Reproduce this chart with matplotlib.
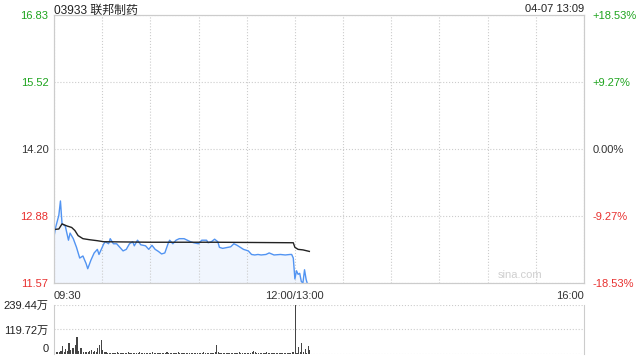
import numpy as np
import matplotlib.pyplot as plt

plt.rcParams['font.family'] = ['Liberation Sans', 'Noto Sans CJK SC', 'DejaVu Sans']

# Data (minutes since 09:30, lunch break removed; 150 = 12:00/13:00)
price_min = [0, 1, 3, 4, 5, 7, 9, 10, 12, 14, 16, 18, 20, 21, 23, 25, 27, 28, 30, 31,
             32, 34, 35, 37, 39, 41, 43, 45, 47, 49, 50, 52, 54, 57, 59, 61, 63, 65, 67, 69,
             71, 72, 74, 76, 78, 81, 83, 85, 87, 90, 92, 95, 96, 98, 100, 102, 103, 105, 110, 112,
             114, 116, 118, 121, 123, 125, 127, 129, 132, 134, 137, 141, 144, 147, 148, 149, 150, 151, 152, 153,
             154, 155, 156, 157, 158, 159]
price = [12.48, 12.66, 12.90, 13.18, 12.73, 12.69, 12.41, 12.55, 12.44, 12.27, 12.06, 12.10, 11.95, 11.85, 12.02, 12.16, 12.23, 12.13, 12.27, 12.34,
         12.38, 12.34, 12.44, 12.34, 12.34, 12.27, 12.20, 12.23, 12.34, 12.38, 12.30, 12.41, 12.32, 12.30, 12.23, 12.31, 12.23, 12.19, 12.14, 12.16,
         12.34, 12.41, 12.34, 12.41, 12.44, 12.44, 12.41, 12.38, 12.36, 12.34, 12.41, 12.41, 12.36, 12.38, 12.43, 12.38, 12.27, 12.25, 12.28, 12.34,
         12.31, 12.27, 12.23, 12.20, 12.13, 12.12, 12.13, 12.12, 12.13, 12.16, 12.12, 12.13, 12.12, 12.13, 12.13, 12.06, 11.65, 11.81, 11.74, 11.76,
         11.60, 11.57, 11.83, 11.64, 11.53, 11.43]

avg_min = [0, 3, 5, 8, 11, 13, 15, 18, 22, 27, 31, 60, 100, 149, 150, 152, 155, 159]
avg_price = [12.62, 12.63, 12.73, 12.69, 12.66, 12.60, 12.50, 12.44, 12.42, 12.40, 12.38, 12.37, 12.37, 12.36, 12.27, 12.23, 12.22, 12.19]

volume = [81, 10, 12, 12, 15, 38, 12, 25, 14, 54,
          20, 30, 28, 45, 83, 14, 30, 28, 12, 10,
          12, 10, 15, 20, 12, 15, 10, 28, 43, 70,
          18, 12, 8, 6, 5, 7, 4, 6, 5, 8,
          6, 5, 7, 4, 5, 6, 8, 5, 4, 6,
          7, 5, 6, 9, 5, 4, 6, 5, 7, 6,
          5, 8, 6, 4, 5, 7, 5, 6, 4, 5,
          9, 6, 5, 7, 4, 6, 5, 8, 5, 6,
          4, 5, 7, 6, 5, 4, 6, 5, 7, 5,
          6, 4, 5, 8, 6, 5, 7, 4, 6, 5,
          8, 42, 10, 6, 5, 7, 4, 6, 5, 6,
          5, 7, 4, 6, 5, 8, 5, 6, 4, 5,
          6, 7, 5, 12, 15, 9, 6, 5, 7, 4,
          5, 6, 8, 5, 4, 6, 5, 7, 5, 6,
          4, 6, 5, 7, 5, 4, 6, 5, 8, 10,
          239.44, 6, 34, 8, 54, 10, 26, 6, 38, 20]
vol_min = np.arange(len(volume))

price_ticks = [11.57, 12.88, 14.20, 15.52, 16.83]
pct_labels = ['-18.53%', '-9.27%', '0.00%', '+9.27%', '+18.53%']
tick_colors = ['#e8302f', '#e8302f', '#333333', '#1ea41e', '#1ea41e']
vol_ticks = [0, 119.72, 239.44]
vol_labels = ['0', '119.72万', '239.44万']

grid_c = '#cccccc'

fig = plt.figure(figsize=(6.4, 3.6), dpi=100)
ax = fig.add_axes([0.0844, 0.2139, 0.828, 0.7444])
axv = fig.add_axes([0.0844, 0.0167, 0.828, 0.1361])

# price panel
ax.fill_between(price_min, price, 11.57, color='#f1f6fe', lw=0)
ax.plot(price_min, price, color='#5294f2', lw=1)
ax.plot(avg_min, avg_price, color='#222222', lw=1)
ax.set_xlim(0, 330)
ax.set_ylim(11.57, 16.83)
ax.set_yticks(price_ticks)
ax.set_yticklabels(['%.2f' % v for v in price_ticks])
ax.set_xticks(np.arange(0, 331, 30))
ax.set_xticklabels(['09:30', '', '', '', '', '12:00/13:00', '', '', '', '', '', '16:00'])
xl = ax.get_xticklabels()
xl[0].set_ha('left')
xl[-1].set_ha('right')
ax.tick_params(axis='both', length=0, labelsize=8, colors='#333333')
ax.tick_params(axis='x', pad=6)
ax.tick_params(axis='y', pad=4)
for lab, c in zip(ax.get_yticklabels(), tick_colors):
    lab.set_color(c)
ax.grid(True, color=grid_c, ls=':', lw=0.8)
for s in ax.spines.values():
    s.set_color(grid_c)

ax2 = ax.twinx()
ax2.set_ylim(11.57, 16.83)
ax2.set_yticks(price_ticks)
ax2.set_yticklabels(pct_labels)
ax2.tick_params(axis='y', length=0, labelsize=8, pad=6)
for lab, c in zip(ax2.get_yticklabels(), tick_colors):
    lab.set_color(c)
for s in ax2.spines.values():
    s.set_color(grid_c)

ax.text(0.88, 0.01, 'sina.com', transform=ax.transAxes, ha='center', va='bottom',
        fontsize=8, color='#cfcfcf')
fig.text(0.0844, 0.985, '03933 联邦制药', ha='left', va='top', fontsize=8.6, color='#222222')
fig.text(0.9125, 0.99, '04-07 13:09', ha='right', va='top', fontsize=8, color='#222222')

# volume panel
axv.bar(vol_min, volume, width=0.7, color='#444444', align='edge')
axv.set_xlim(0, 330)
axv.set_ylim(0, 239.44)
axv.set_xticks([])
axv.set_yticks(vol_ticks)
axv.set_yticklabels(vol_labels)
axv.get_yticklabels()[0].set_va('bottom')
axv.tick_params(axis='y', length=0, labelsize=8, colors='#222222', pad=4)
axv.grid(True, axis='y', color=grid_c, ls=':', lw=0.8)
axv.spines['top'].set_visible(False)
axv.spines['bottom'].set_visible(False)
axv.spines['left'].set_color(grid_c)
axv.spines['right'].set_color(grid_c)

fig.savefig('out.png', dpi=100)
